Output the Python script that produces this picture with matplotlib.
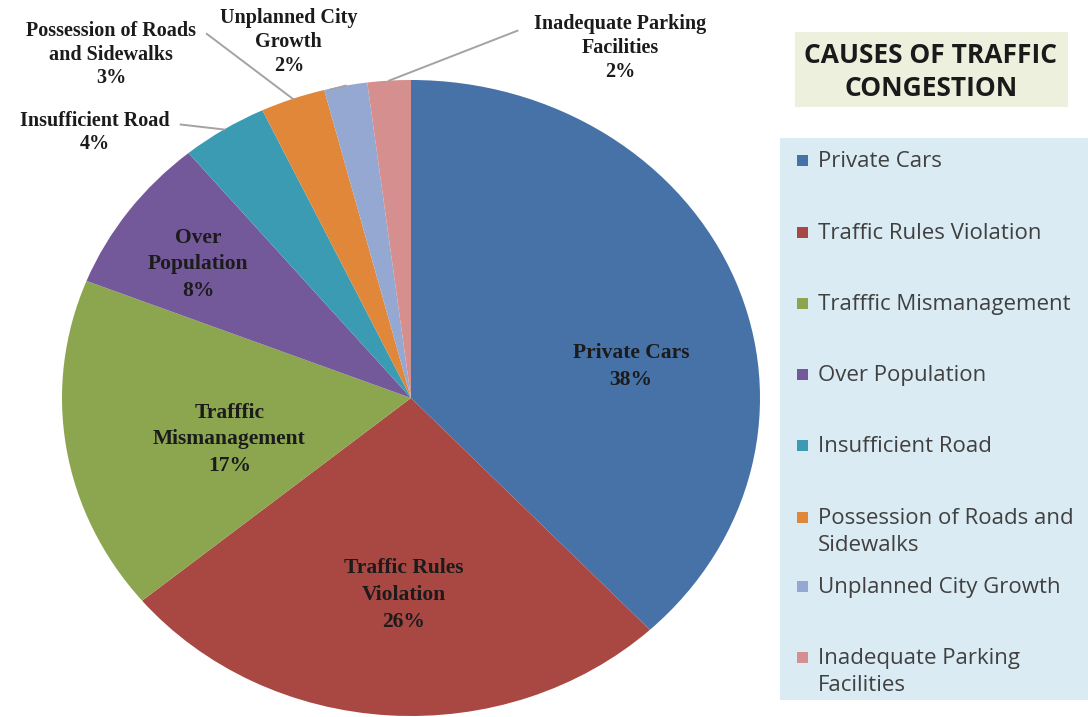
import numpy as np
import matplotlib.pyplot as plt
from matplotlib.patches import Rectangle

# Causes of traffic congestion (percent share)
causes = ['Private Cars', 'Traffic Rules Violation', 'Trafffic Mismanagement',
          'Over Population', 'Insufficient Road', 'Possession of Roads and Sidewalks',
          'Unplanned City Growth', 'Inadequate Parking Facilities']
shares = [38, 26, 17, 8, 4, 3, 2, 2]
colors = ['#4672A8', '#A94743', '#8BA64F', '#74599A', '#3B9BB3', '#E0873A',
          '#95A8D2', '#D68F8F']

# slice labels as drawn on the pie
pie_labels = ['Private Cars', 'Traffic Rules\nViolation', 'Trafffic\nMismanagement',
              'Over\nPopulation', 'Insufficient Road', 'Possession of Roads\nand Sidewalks',
              'Unplanned City\nGrowth', 'Inadequate Parking\nFacilities']
label_xy = [(0.63, 0.10), (-0.02, -0.62), (-0.52, -0.13), (-0.61, 0.42),
            (-0.905, 0.835), (-0.86, 1.08), (-0.35, 1.12), (0.60, 1.10)]
label_size = [15.5, 15.5, 15.5, 15.5, 14.5, 14.5, 14.5, 14.5]
# leader line start points for labels outside the pie
leader_from = {4: (-0.66, 0.86), 5: (-0.585, 1.145), 6: (-0.23, 0.97), 7: (0.305, 1.155)}

# legend text (wrapped) and row positions in pixels
legend_text = ['Private Cars', 'Traffic Rules Violation', 'Trafffic Mismanagement',
               'Over Population', 'Insufficient Road', 'Possession of Roads and\nSidewalks',
               'Unplanned City Growth', 'Inadequate Parking\nFacilities']
legend_y = [160, 232, 303, 374, 445, 517, 586, 657]

W, H = 1088, 717
fig = plt.figure(figsize=(W / 100, H / 100), dpi=100)

# pie axes: slightly wider than tall
cx, cy, rx, ry = 411, 398, 349, 318
ax = fig.add_axes([(cx - rx) / W, (H - cy - ry) / H, 2 * rx / W, 2 * ry / H])
wedges, _ = ax.pie(shares, colors=colors, startangle=90, counterclock=False,
                   wedgeprops=dict(linewidth=0))
ax.set_aspect('auto')
ax.set_xlim(-1, 1)
ax.set_ylim(-1, 1)
ax.axis('off')

serif = 'Liberation Serif'
for i, (lab, (x, y)) in enumerate(zip(pie_labels, label_xy)):
    ls = 1.45 if i < 4 else 1.25
    ax.text(x, y, f'{lab}\n{shares[i]}%', ha='center', va='center', fontsize=label_size[i],
            fontweight='bold', family=serif, color='#1b1b1b', linespacing=ls,
            clip_on=False)

# leader lines to the small slices
cum = np.cumsum([0] + shares) / sum(shares)
for i, (x0, y0) in leader_from.items():
    mid = 90 - 360 * (cum[i] + cum[i + 1]) / 2
    x1, y1 = np.cos(np.radians(mid)), np.sin(np.radians(mid))
    ax.plot([x0, x1], [y0, y1], color='#a3a3a3', lw=1.4, clip_on=False)

# overlay in pixel coordinates for the title and legend panel
ov = fig.add_axes([0, 0, 1, 1], zorder=-1)
ov.set_xlim(0, W)
ov.set_ylim(H, 0)
ov.axis('off')

ov.add_patch(Rectangle((795, 32), 273, 75, facecolor='#EEF0DE', edgecolor='none'))
ov.text(931, 72, 'CAUSES OF TRAFFIC\nCONGESTION', ha='center', va='center',
        fontsize=19, fontweight='bold', family='Open Sans', color='#1a1a1a',
        linespacing=1.25)

ov.add_patch(Rectangle((780, 138), 308, 562, facecolor='#DAEBF3', edgecolor='none'))
for txt, y, c in zip(legend_text, legend_y, colors):
    ov.add_patch(Rectangle((797, y - 5), 11, 11, facecolor=c, edgecolor='none'))
    ov.text(818, y - 9, txt, ha='left', va='top', fontsize=16, family='Open Sans',
            color='#404040', linespacing=1.4)

fig.savefig('out.png', dpi=100)
